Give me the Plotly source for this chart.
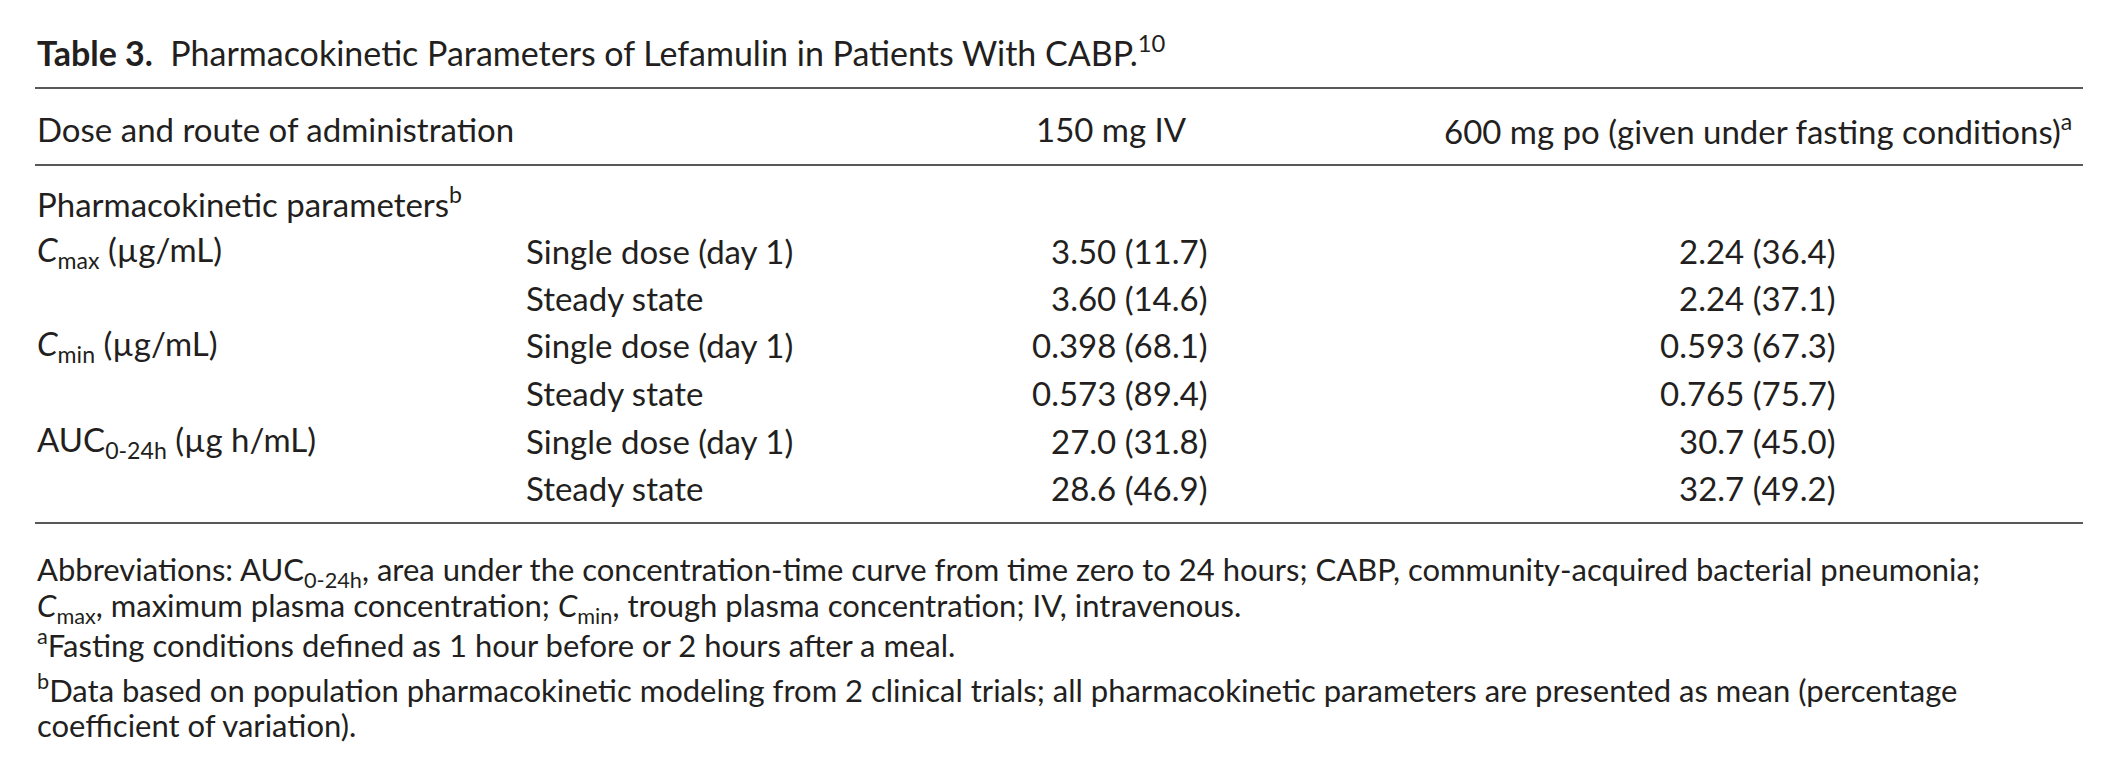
import plotly.graph_objects as go

title = "<b>Table 3.</b>  Pharmacokinetic Parameters of Lefamulin in Patients With CABP.<sup>10</sup>"
headers = ["Dose and route of administration", "150 mg IV",
           "600 mg po (given under fasting conditions)<sup>a</sup>"]
section = "Pharmacokinetic parameters<sup>b</sup>"
params = ["<i>C</i><sub>max</sub> (µg/mL)", "<i>C</i><sub>min</sub> (µg/mL)",
          "AUC<sub>0-24h</sub> (µg h/mL)"]
states = ["Single dose (day 1)", "Steady state"] * 3
iv_vals = ["3.50 (11.7)", "3.60 (14.6)", "0.398 (68.1)", "0.573 (89.4)",
           "27.0 (31.8)", "28.6 (46.9)"]
po_vals = ["2.24 (36.4)", "2.24 (37.1)", "0.593 (67.3)", "0.765 (75.7)",
           "30.7 (45.0)", "32.7 (49.2)"]
footnotes = [
    "Abbreviations: AUC<sub>0-24h</sub>, area under the concentration-time curve from time zero to 24 hours; CABP, community-acquired bacterial pneumonia;",
    "<i>C</i><sub>max</sub>, maximum plasma concentration; <i>C</i><sub>min</sub>, trough plasma concentration; IV, intravenous.",
    "<sup>a</sup>Fasting conditions defined as 1 hour before or 2 hours after a meal.",
    "<sup>b</sup>Data based on population pharmacokinetic modeling from 2 clinical trials; all pharmacokinetic parameters are presented as mean (percentage",
    "coefficient of variation).",
]

W, H = 2102, 762
FONT = "Lato, Open Sans, sans-serif"
ann = []

def txt(x, y, s, anchor="left", size=33):
    ann.append(dict(x=x, y=y, text=s, xref="x", yref="y", showarrow=False,
                    xanchor=anchor, yanchor="middle",
                    font=dict(family=FONT, size=size, color="#231f20")))

txt(27, 43, title, size=34)
txt(27, 121, headers[0])
txt(1026, 121, headers[1])
txt(2066, 121, headers[2], "right")
txt(27, 194, section)
row_y = [243, 290, 337, 385, 433, 480]
for i, y in enumerate(row_y):
    if i % 2 == 0:
        txt(27, y, params[i // 2])
    txt(516, y, states[i])
    txt(1202, y, iv_vals[i], "right")
    txt(1830, y, po_vals[i], "right")
for s, y in zip(footnotes, [563, 599, 635, 680, 717]):
    txt(27, y, s, size=31)

shapes = [dict(type="line", xref="x", yref="y", x0=27, x1=2075, y0=y, y1=y,
               line=dict(color="#231f20", width=1.5)) for y in (80, 157, 515)]

fig = go.Figure()
fig.update_layout(width=W, height=H, margin=dict(l=0, r=0, t=0, b=0),
                  paper_bgcolor="white", plot_bgcolor="white",
                  annotations=ann, shapes=shapes, showlegend=False,
                  xaxis=dict(range=[0, W], visible=False, fixedrange=True),
                  yaxis=dict(range=[H, 0], visible=False, fixedrange=True))
fig.write_html("out.html", config={"displayModeBar": False})
